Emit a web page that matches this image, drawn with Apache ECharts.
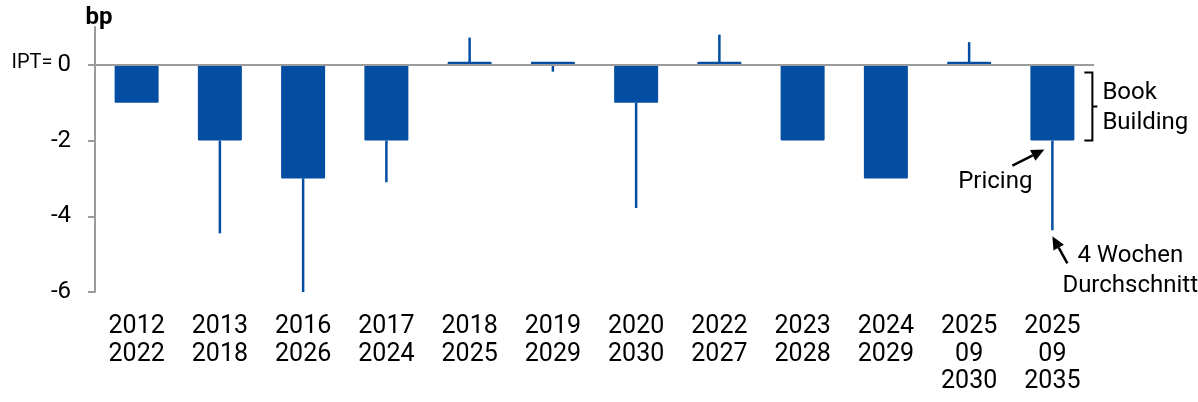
<!DOCTYPE html>
<html>
<head>
<meta charset="utf-8">
<script src="https://cdn.jsdelivr.net/npm/echarts@6/dist/echarts.min.js"></script>
<style>
  html, body { margin: 0; padding: 0; background: #fff; }
  #chart { width: 1198px; height: 402px; }
</style>
</head>
<body>
<div id="chart"></div>
<script>
// Kategorien (Emission / Laufzeit)
const categories = ['2012\n2022', '2013\n2018', '2016\n2026', '2017\n2024', '2018\n2025', '2019\n2029',
  '2020\n2030', '2022\n2027', '2023\n2028', '2024\n2029', '2025\n09\n2030', '2025\n09\n2035'];
// Book Building: IPT -> Pricing (bp)
const pricing = [-1, -2, -3, -2, 0, 0, -1, 0, -2, -3, 0, -2];
// 4 Wochen Durchschnitt (bp), null = keine Linie
const avg4w = [null, -4.45, -6, -3.1, 0.72, -0.18, -3.78, 0.8, null, null, 0.6, -4.37];
const yTicks = [-6, -4, -2, 0];

const blue = '#034ea2';
const grey = '#9b9b9b';
const font = 'Roboto, "Noto Sans", sans-serif';

const chart = echarts.init(document.getElementById('chart'));

const whiskerData = [];
avg4w.forEach((v, i) => {
  if (v !== null) whiskerData.push([i, pricing[i], v]);
});

chart.setOption({
  animation: false,
  textStyle: { fontFamily: font, color: '#000' },
  grid: { left: 95, right: 104, top: 27, bottom: 110 },
  xAxis: {
    type: 'category',
    data: categories,
    axisLine: { show: false },
    axisTick: { show: false },
    axisLabel: { color: '#000', fontSize: 25, lineHeight: 27.5, margin: 21, interval: 0 }
  },
  yAxis: {
    type: 'value',
    min: -6,
    max: 1,
    interval: 2,
    name: 'bp',
    nameGap: -3,
    nameTextStyle: { fontSize: 24, fontWeight: 'bold', color: '#000', padding: [0, 0, 0, 8] },
    splitLine: { show: false },
    axisLine: { show: true, onZero: false, lineStyle: { color: grey, width: 2 } },
    axisTick: { show: true, length: 7, customValues: yTicks, lineStyle: { color: grey, width: 2 } },
    axisLabel: {
      customValues: yTicks,
      margin: 24,
      fontSize: 24,
      color: '#000',
      formatter: v => v === 0 ? '{s|IPT=}{b|0}' : '{b|' + v + '}',
      rich: {
        s: { fontSize: 20, color: '#000', padding: [0, 5, 4, 0] },
        b: { fontSize: 24, color: '#000' }
      }
    }
  },
  series: [
    {
      // Nulllinie
      type: 'line',
      data: [],
      z: 1,
      silent: true,
      markLine: {
        symbol: 'none',
        silent: true,
        label: { show: false },
        lineStyle: { color: grey, width: 2, type: 'solid' },
        data: [{ yAxis: 0 }]
      }
    },
    {
      name: 'Book Building',
      type: 'bar',
      data: pricing,
      barWidth: 44,
      barMinHeight: 3,
      z: 3,
      itemStyle: { color: blue, borderRadius: 1 }
    },
    {
      name: '4 Wochen Durchschnitt',
      type: 'custom',
      z: 2,
      data: whiskerData,
      encode: { x: 0, y: [1, 2] },
      renderItem: (params, api) => {
        const p1 = api.coord([api.value(0), api.value(1)]);
        const p2 = api.coord([api.value(0), api.value(2)]);
        return {
          type: 'line',
          shape: { x1: p1[0], y1: p1[1], x2: p2[0], y2: p2[1] },
          style: { stroke: blue, lineWidth: 2.5 }
        };
      }
    }
  ]
});

// Annotationen an der letzten Kategorie
function arrow(x1, y1, x2, y2) {
  const ang = Math.atan2(y2 - y1, x2 - x1);
  const len = 13, half = 6;
  const bx = x2 - len * Math.cos(ang), by = y2 - len * Math.sin(ang);
  const nx = -Math.sin(ang), ny = Math.cos(ang);
  return [
    { type: 'line', shape: { x1: x1, y1: y1, x2: bx, y2: by }, style: { stroke: '#000', lineWidth: 2.5 } },
    { type: 'polygon', shape: { points: [[x2, y2], [bx + nx * half, by + ny * half], [bx - nx * half, by - ny * half]] },
      style: { fill: '#000' } }
  ];
}

const last = categories.length - 1;
const pTop = chart.convertToPixel({ gridIndex: 0 }, [last, -0.2]);
const pBar = chart.convertToPixel({ gridIndex: 0 }, [last, pricing[last]]);
const pAvg = chart.convertToPixel({ gridIndex: 0 }, [last, avg4w[last]]);
const bx = pBar[0] + 32;
const midY = (pTop[1] + pBar[1]) / 2;

const txt = (x, y, s, align) => ({
  type: 'text', x: x, y: y,
  style: { text: s, fontSize: 24, fontFamily: font, fill: '#000', align: align || 'left', verticalAlign: 'middle' }
});

chart.setOption({
  graphic: [
    {
      type: 'polyline',
      shape: { points: [[bx, pTop[1]], [bx + 8, pTop[1]], [bx + 8, midY],
        [bx + 13, midY], [bx + 8, midY], [bx + 8, pBar[1]], [bx, pBar[1]]] },
      style: { stroke: '#000', lineWidth: 2, fill: null }
    },
    txt(bx + 18, midY - 14, 'Book'),
    txt(bx + 18, midY + 16, 'Building'),
    ...arrow(pBar[0] - 40, pBar[1] + 25, pBar[0] - 8, pBar[1] + 9),
    txt(pBar[0] - 20, pBar[1] + 41, 'Pricing', 'right'),
    ...arrow(pAvg[0] + 15, pAvg[1] + 33, pAvg[0], pAvg[1] + 6),
    txt(pAvg[0] + 25, pAvg[1] + 26, '4 Wochen'),
    txt(pAvg[0] + 10, pAvg[1] + 56, 'Durchschnitt')
  ]
});
</script>
</body>
</html>
